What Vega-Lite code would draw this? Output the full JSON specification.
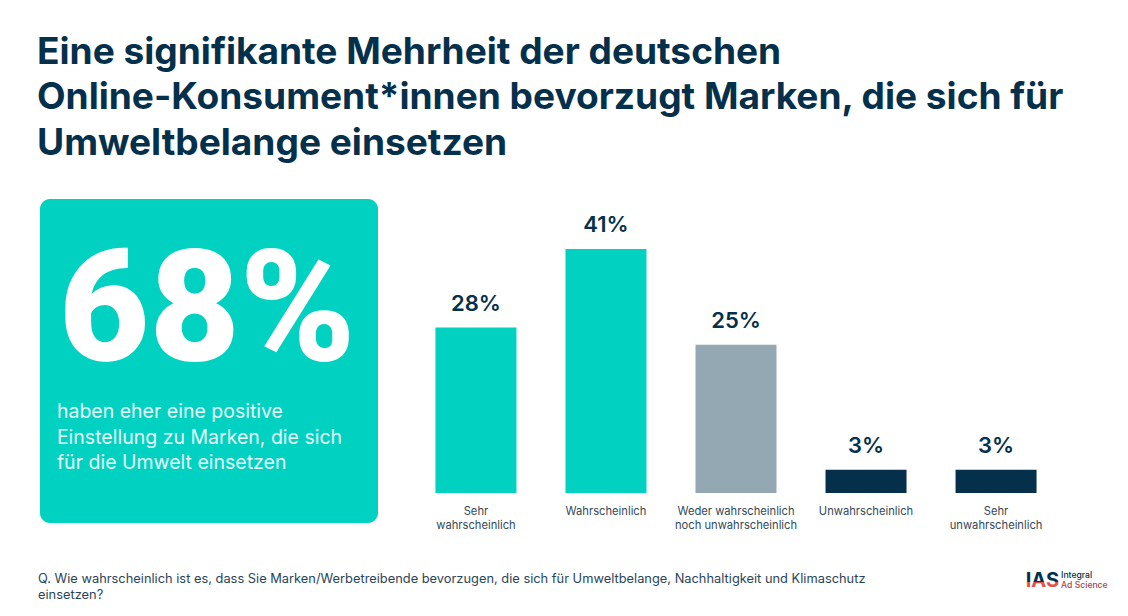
{
  "$schema": "https://vega.github.io/schema/vega-lite/v6.json",
  "background": "white",
  "padding": {"left": 37, "top": 33, "right": 0, "bottom": 0},
  "font": "Inter",
  "title": {
    "text": ["Eine signifikante Mehrheit der deutschen", "Online-Konsument*innen bevorzugt Marken, die sich für", "Umweltbelange einsetzen"],
    "font": "Inter",
    "fontSize": 37.1,
    "fontWeight": 700,
    "color": "#04304b",
    "anchor": "start",
    "frame": "group",
    "dx": -3,
    "lineHeight": 45.5,
    "offset": 36
  },
  "config": {"view": {"stroke": null}},
  "vconcat": [
    {
      "hconcat": [
        {
          "width": 338,
          "height": 324,
          "view": {"fill": "#00d1c1", "cornerRadius": 10, "stroke": null},
          "data": {"values": [{"kennzahl": "68%", "text": "haben eher eine positive\nEinstellung zu Marken, die sich\nfür die Umwelt einsetzen"}]},
          "layer": [
            {
              "mark": {"type": "text", "font": "Roboto", "fontSize": 156, "fontWeight": 900, "color": "white", "align": "center", "baseline": "alphabetic"},
              "encoding": {
                "x": {"datum": 49.5, "type": "quantitative", "scale": {"domain": [0, 100]}, "axis": null},
                "y": {"datum": 50.3, "type": "quantitative", "scale": {"domain": [0, 100]}, "axis": null},
                "text": {"field": "kennzahl"}
              }
            },
            {
              "mark": {"type": "text", "font": "Inter", "fontSize": 19.5, "color": "#e6fbf9", "align": "left", "baseline": "alphabetic", "lineBreak": "\n", "lineHeight": 25.5},
              "encoding": {
                "x": {"datum": 5, "type": "quantitative", "scale": {"domain": [0, 100]}, "axis": null},
                "y": {"datum": 32.4, "type": "quantitative", "scale": {"domain": [0, 100]}, "axis": null},
                "text": {"field": "text"}
              }
            }
          ]
        },
        {
          "width": 650,
          "height": 294,
          "data": {
            "values": [
              {"antwort": "Sehr\nwahrscheinlich", "anteil": "28%", "balken": 27.8, "gruppe": "positiv"},
              {"antwort": "Wahrscheinlich", "anteil": "41%", "balken": 41, "gruppe": "positiv"},
              {"antwort": "Weder wahrscheinlich\nnoch unwahrscheinlich", "anteil": "25%", "balken": 24.9, "gruppe": "neutral"},
              {"antwort": "Unwahrscheinlich", "anteil": "3%", "balken": 3.9, "gruppe": "negativ"},
              {"antwort": "Sehr\nunwahrscheinlich", "anteil": "3%", "balken": 3.9, "gruppe": "negativ"}
            ]
          },
          "encoding": {
            "x": {
              "field": "antwort",
              "type": "nominal",
              "sort": null,
              "title": null,
              "scale": {"paddingInner": 0.377, "paddingOuter": 0.188},
              "axis": {
                "domain": false,
                "ticks": false,
                "labelAngle": 0,
                "labelPadding": 21,
                "labelFont": "Inter",
                "labelFontSize": 11.2,
                "labelColor": "#33495a",
                "labelLineHeight": 14,
                "labelBaseline": "alphabetic",
                "labelExpr": "split(datum.value, '\\n')"
              }
            },
            "y": {"field": "balken", "type": "quantitative", "scale": {"domain": [0, 49.4]}, "axis": null}
          },
          "layer": [
            {
              "mark": {"type": "bar"},
              "encoding": {
                "color": {
                  "field": "gruppe",
                  "type": "nominal",
                  "scale": {"domain": ["positiv", "neutral", "negativ"], "range": ["#00d1c1", "#93a8b3", "#04304b"]},
                  "legend": null
                }
              }
            },
            {
              "mark": {"type": "text", "font": "Inter", "fontSize": 22, "fontWeight": 600, "color": "#04304b", "baseline": "alphabetic", "dy": -17},
              "encoding": {"text": {"field": "anteil"}}
            }
          ]
        }
      ],
      "spacing": 33
    },
    {
      "width": 1088,
      "height": 40,
      "data": {"values": [{"frage": "Q. Wie wahrscheinlich ist es, dass Sie Marken/Werbetreibende bevorzugen, die sich für Umweltbelange, Nachhaltigkeit und Klimaschutz\neinsetzen?", "logo": "IAS", "name1": "Integral", "name2": "Ad Science"}]},
      "encoding": {
        "y": {"datum": 50, "type": "quantitative", "scale": {"domain": [0, 100]}, "axis": null}
      },
      "layer": [
        {
          "mark": {"type": "text", "font": "Inter", "fontSize": 12.85, "color": "#2a4457", "align": "left", "baseline": "alphabetic", "lineBreak": "\n", "lineHeight": 15.5, "dx": -2},
          "encoding": {
            "x": {"datum": 0, "type": "quantitative", "scale": {"domain": [0, 100]}, "axis": null},
            "text": {"field": "frage"}
          }
        },
        {
          "mark": {"type": "text", "font": "Inter", "fontSize": 20, "fontWeight": 700, "align": "left", "baseline": "alphabetic", "dy": 4,
            "color": {"x1": 0, "y1": 0, "x2": 0, "y2": 1, "gradient": "linear", "stops": [{"offset": 0, "color": "#04304b"}, {"offset": 0.6, "color": "#04304b"}, {"offset": 0.6, "color": "#e0524a"}, {"offset": 1, "color": "#e0524a"}]}},
          "encoding": {
            "x": {"datum": 90.6, "type": "quantitative", "scale": {"domain": [0, 100]}, "axis": null},
            "text": {"field": "logo"}
          }
        },
        {
          "mark": {"type": "text", "font": "Inter", "fontSize": 8.6, "fontWeight": 500, "color": "#04304b", "align": "left", "baseline": "alphabetic", "dy": -5},
          "encoding": {
            "x": {"datum": 93.85, "type": "quantitative", "scale": {"domain": [0, 100]}, "axis": null},
            "text": {"field": "name1"}
          }
        },
        {
          "mark": {"type": "text", "font": "Inter", "fontSize": 8.6, "fontWeight": 500, "color": "#a8454d", "align": "left", "baseline": "alphabetic", "dy": 5},
          "encoding": {
            "x": {"datum": 93.85, "type": "quantitative", "scale": {"domain": [0, 100]}, "axis": null},
            "text": {"field": "name2"}
          }
        }
      ]
    }
  ],
  "spacing": 32
}
